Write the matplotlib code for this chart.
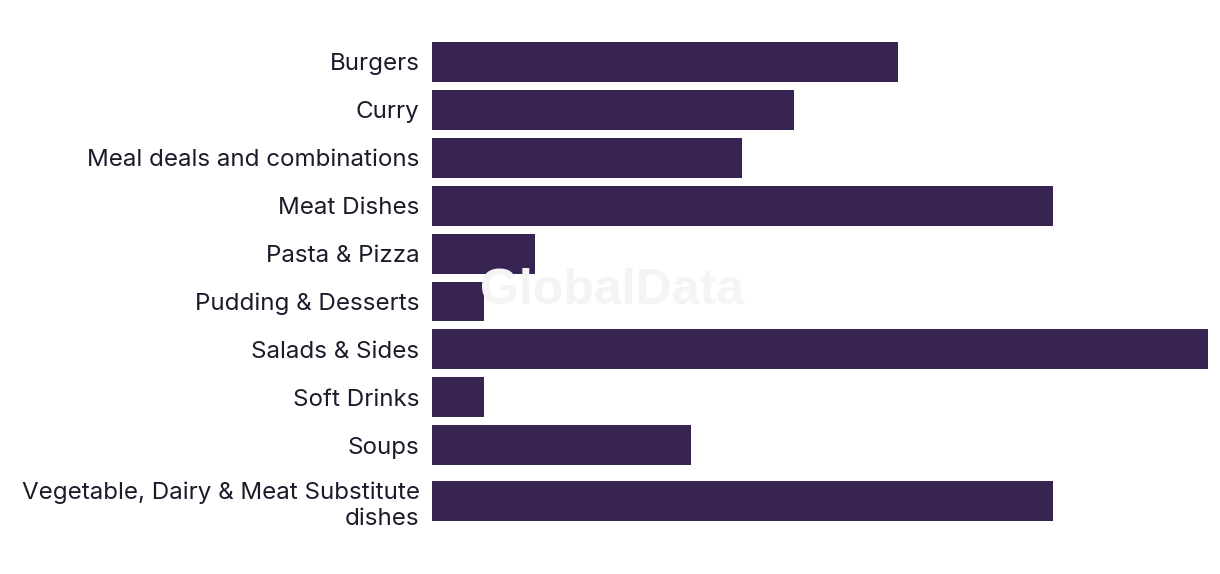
import matplotlib
matplotlib.use("Agg")
import matplotlib.pyplot as plt

# categories (top to bottom) and their values
categories = ["Burgers", "Curry", "Meal deals and combinations", "Meat Dishes",
              "Pasta & Pizza", "Pudding & Desserts", "Salads & Sides",
              "Soft Drinks", "Soups",
              "Vegetable, Dairy & Meat Substitute\ndishes"]
values = [9, 7, 6, 12, 2, 1, 15, 1, 5, 12]

bar_color = "#372453"
text_color = "#1c1a2b"

# two-line labels get a bit more room, like the original layout
n_lines = [c.count("\n") + 1 for c in categories]
ypos = [0.0]
for i in range(1, len(categories)):
    ypos.append(ypos[-1] + 1 + (n_lines[i] - 1 + n_lines[i - 1] - 1) / 6)

fig = plt.figure(figsize=(12.2, 5.74), dpi=100)
ax = fig.add_axes([432 / 1220, 1 - 521 / 574, 776 / 1220, 479 / 574])

ax.barh(ypos, values, height=40 / 48, color=bar_color, zorder=2)
ax.set_xlim(0, max(values))
ax.set_ylim(ypos[-1] + 20 / 48, -20 / 48)

ax.set_yticks(ypos)
ax.set_yticklabels(categories, fontsize=17.4, color=text_color, family="Inter",
                   linespacing=1.22)
ax.tick_params(axis="y", length=0, pad=9)
ax.set_xticks([])
for s in ax.spines.values():
    s.set_visible(False)

fig.text(612 / 1220, 1 - 291 / 574, "GlobalData", ha="center", va="center",
         fontsize=36, fontweight="bold", family="Liberation Sans",
         color="#f4f4f4", zorder=0)

fig.savefig("out.png", dpi=100)
